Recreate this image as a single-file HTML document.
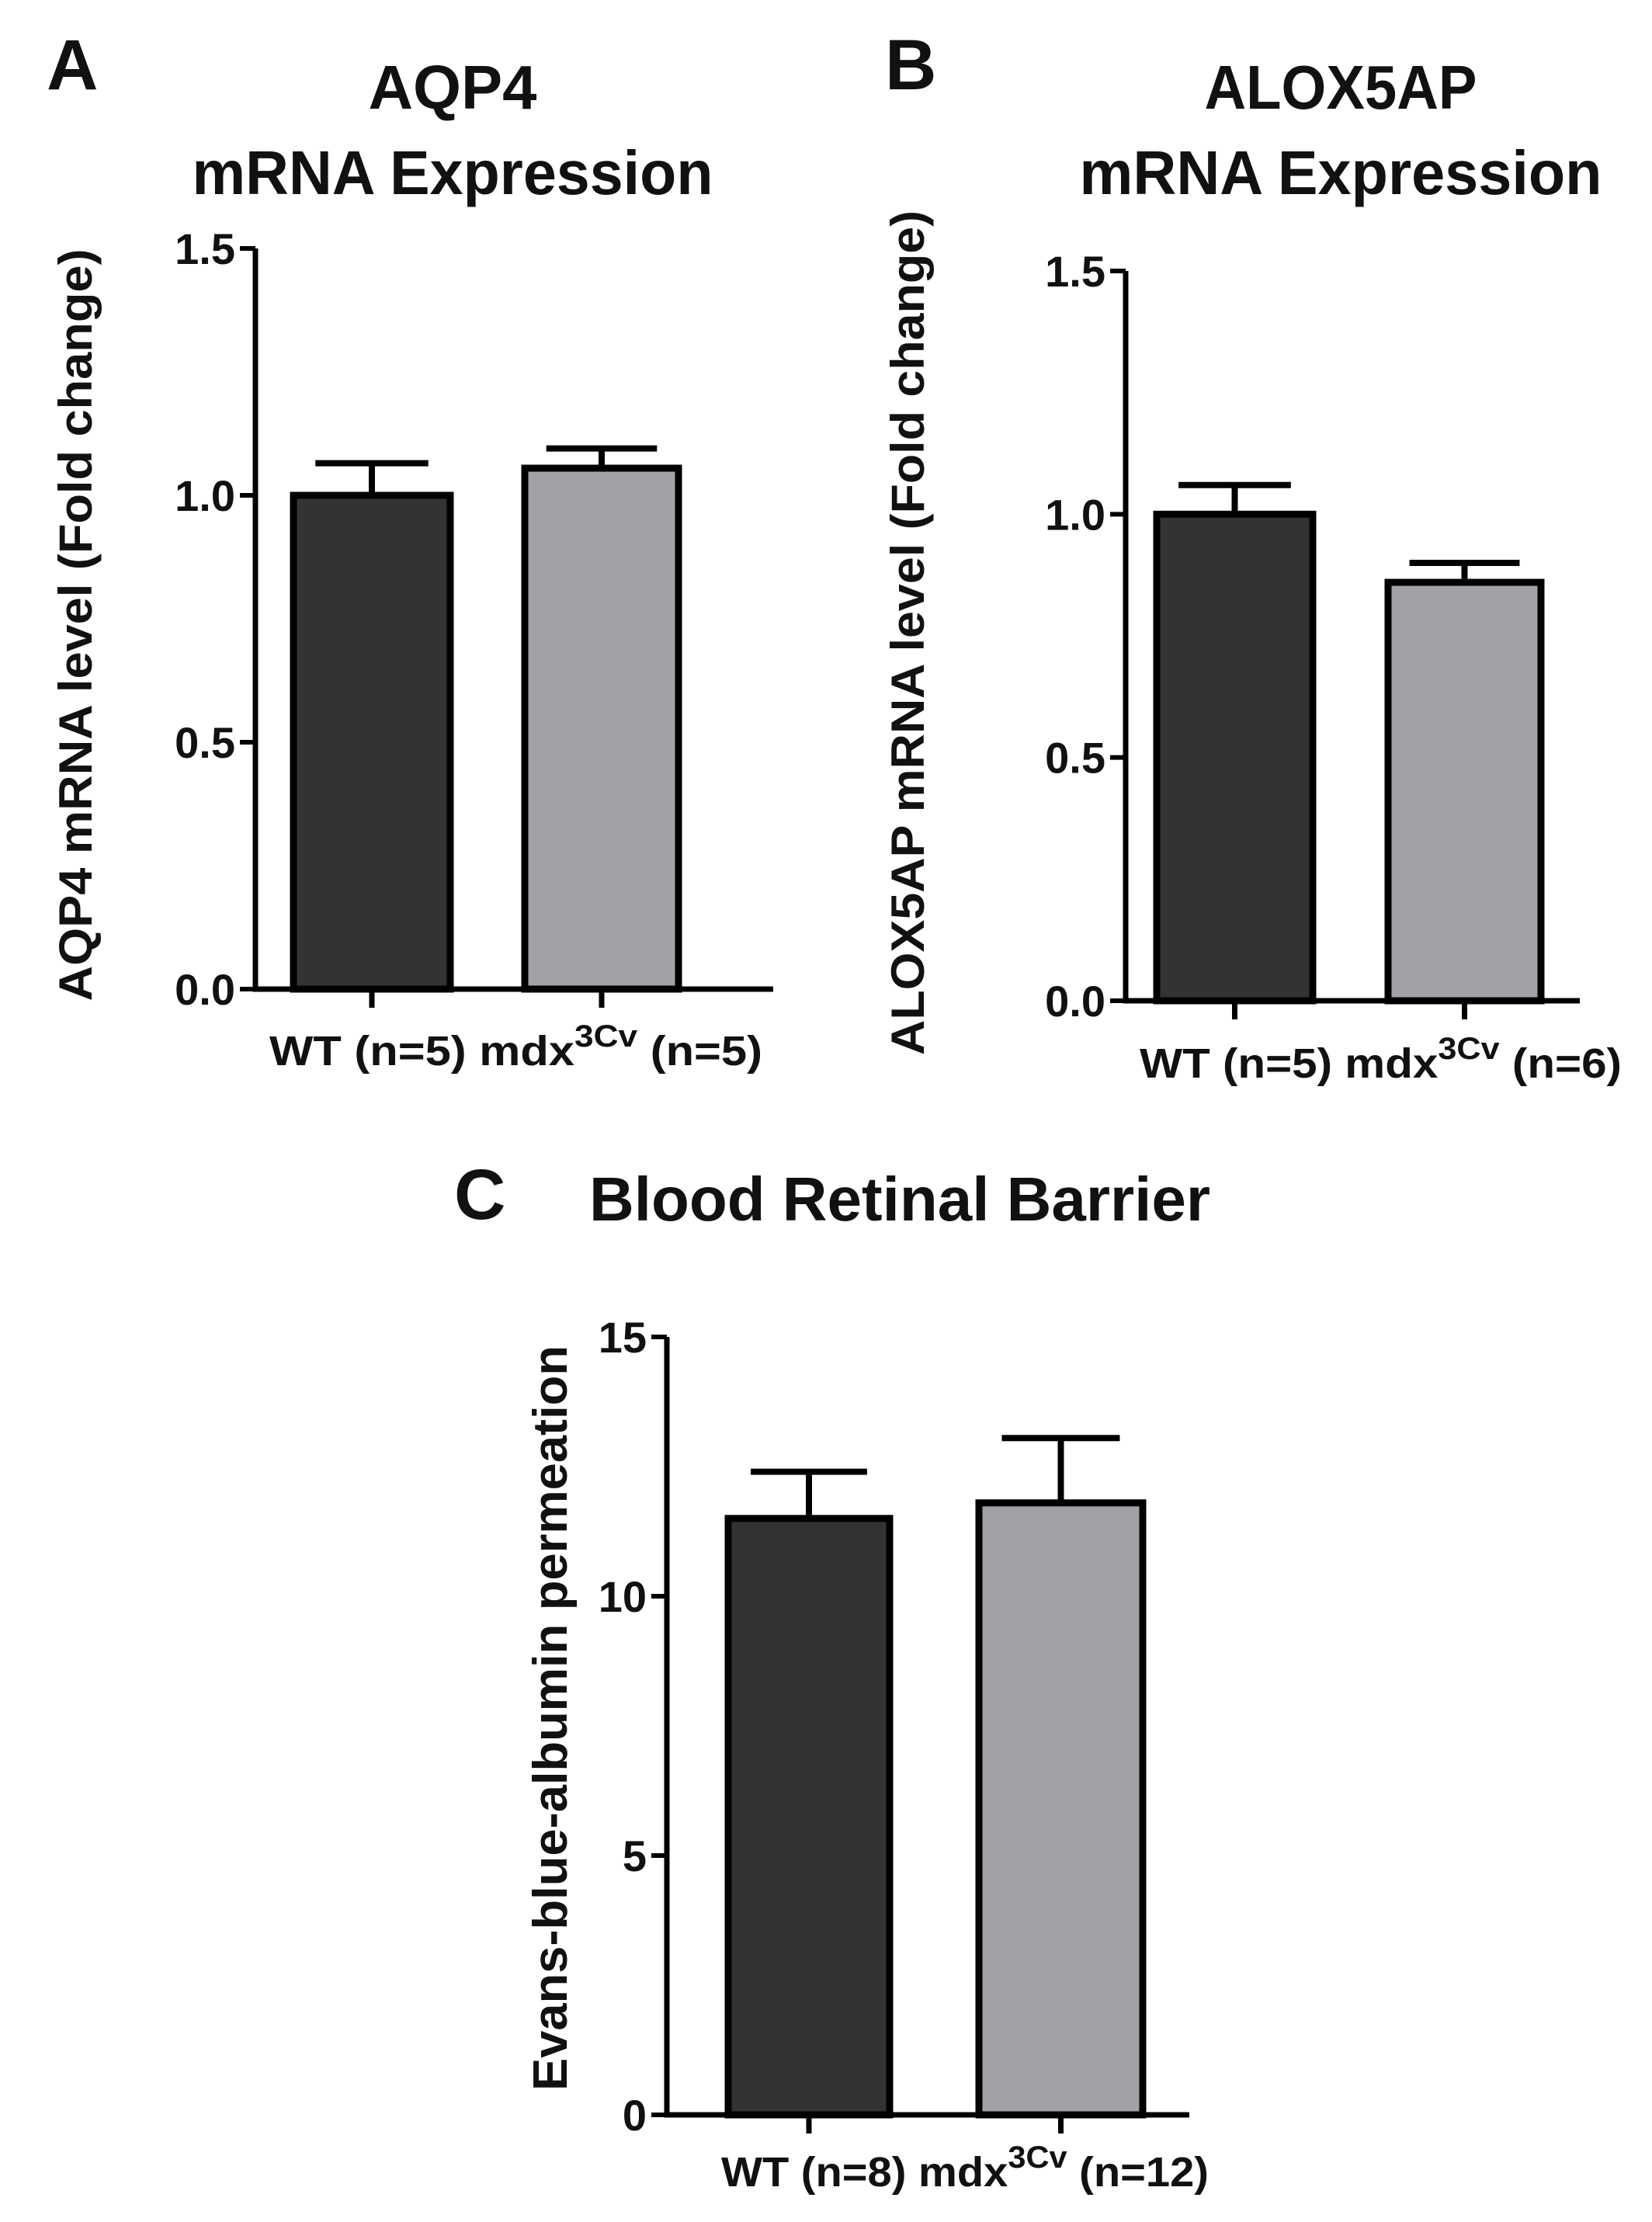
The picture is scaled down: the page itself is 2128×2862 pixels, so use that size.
<!DOCTYPE html>
<html><head><meta charset="utf-8"><style>
html,body{margin:0;padding:0;background:#fff;}
svg{display:block;}
.t{font-family:"Liberation Sans",Arial,sans-serif;font-weight:bold;fill:#111;}
.h{font-family:"Liberation Sans",Arial,sans-serif;font-weight:bold;fill:#111;}
</style></head><body>
<svg id="fig" width="2128" height="2862" viewBox="0 0 2128 2862" xmlns="http://www.w3.org/2000/svg">
<g id="gA"></g>
<g id="gB"></g>
<g id="gC"></g>
</svg>
<script>
// Panel A data
const aCats = ["WT (n=5)", "mdx3Cv (n=5)"];
const aVals = [1.0, 1.055];
const aErr = [0.065, 0.04];
const aTicks = ["0.0", "0.5", "1.0", "1.5"];
// Panel B data
const bCats = ["WT (n=5)", "mdx3Cv (n=6)"];
const bVals = [1.0, 0.86];
const bErr = [0.06, 0.04];
const bTicks = ["0.0", "0.5", "1.0", "1.5"];
// Panel C data
const cCats = ["WT (n=8)", "mdx3Cv (n=12)"];
const cVals = [11.5, 11.8];
const cErr = [0.9, 1.25];
const cTicks = ["0", "5", "10", "15"];

const NS = "http://www.w3.org/2000/svg";
function mk(parent, tag, attrs, text) {
  const e = document.createElementNS(NS, tag);
  for (const k in attrs) e.setAttribute(k, attrs[k]);
  if (text !== undefined) e.textContent = text;
  parent.appendChild(e);
  return e;
}

function panel(g, cfg, cats, vals, errs, ticks) {
  const ymax = parseFloat(ticks[ticks.length - 1]);
  const y = v => cfg.y0 + (cfg.yTop - cfg.y0) * (v / ymax);
  const L = mk(g, "text", {x: cfg.letterX, y: cfg.letterY, class: "h", "font-size": 92}, cfg.letter);
  
  
  cfg.title.forEach((line, i) => {
    const t = mk(g, "text", {x: cfg.titleX, y: cfg.titleY + i * 110, class: "h", "font-size": 80, "text-anchor": "middle",
      textLength: cfg.titleW[i], lengthAdjust: "spacingAndGlyphs"}, line);
    
    
  });
  const yt = mk(g, "text", {x: 0, y: 0, class: "t", "font-size": cfg.ytSize, "text-anchor": "middle",
    textLength: cfg.ytLen, lengthAdjust: "spacingAndGlyphs",
    transform: `translate(${cfg.ytX},${cfg.ytY}) rotate(-90)`}, cfg.ytitle);
  
  
  cats.forEach((c, i) => {
    const [x1, x2] = cfg.bars[i];
    const top = y(vals[i]);
    const et = y(vals[i] + errs[i]);
    const cx = (x1 + x2) / 2;
    const ew = (x2 - x1) * 0.36;
    const el = mk(g, "line", {x1: cx, x2: cx, y1: top, y2: et, stroke: "#000", "stroke-width": 8});
    
    
    const ec = mk(g, "line", {x1: cx - ew, x2: cx + ew, y1: et, y2: et, stroke: "#000", "stroke-width": 8});
    
    
    const r = mk(g, "rect", {x: x1, y: top, width: x2 - x1, height: cfg.y0 - top,
      fill: i === 0 ? "#333333" : "#a2a1a5", stroke: "#000", "stroke-width": 9});
    
    
    const tk = mk(g, "line", {x1: cx, x2: cx, y1: cfg.y0, y2: cfg.y0 + 24, stroke: "#000", "stroke-width": 7});
    
    
  });
  const ya = mk(g, "line", {x1: cfg.ax, x2: cfg.ax, y1: cfg.yTop, y2: cfg.y0 + 3.5, stroke: "#000", "stroke-width": 7});
  
  
  const xa = mk(g, "line", {x1: cfg.ax - 3.5, x2: cfg.axEnd, y1: cfg.y0, y2: cfg.y0, stroke: "#000", "stroke-width": 7});
  
  
  ticks.forEach(tv => {
    const v = parseFloat(tv);
    const l = mk(g, "line", {x1: cfg.ax - 20, x2: cfg.ax, y1: y(v), y2: y(v), stroke: "#000", "stroke-width": 6});
    
    
    const t = mk(g, "text", {x: cfg.ax - 26, y: y(v) + 20, class: "t", "font-size": 56, "text-anchor": "end"}, tv);
    
    
  });
  const xl = mk(g, "text", {x: cfg.xlX, y: cfg.xlY, class: "t", "font-size": 54});
  
  
  const w = cats[1].split("3Cv");
  mk(xl, "tspan", {}, cats[0] + " " + w[0]);
  mk(xl, "tspan", {dy: -24, "font-size": 40}, "3Cv");
  mk(xl, "tspan", {dy: 24}, w[1]);
  xl.setAttribute("textLength", cfg.xlW);
  xl.setAttribute("lengthAdjust", "spacingAndGlyphs");
}

panel(document.getElementById("gA"), {
  letter: "A", letterX: 60, letterY: 115, title: ["AQP4", "mRNA Expression"], titleW: [217, 671], titleX: 583, titleY: 140,
  ytitle: "AQP4 mRNA level (Fold change)", ytX: 118, ytY: 805, ytSize: 60, ytLen: 969,
  ax: 329, axEnd: 996, y0: 1274, yTop: 320, bars: [[378, 580], [676, 874]],
  xlX: 347, xlY: 1372, xlW: 635
}, aCats, aVals, aErr, aTicks);

panel(document.getElementById("gB"), {
  letter: "B", letterX: 1140, letterY: 115, title: ["ALOX5AP", "mRNA Expression"], titleW: [351, 673], titleX: 1727, titleY: 140,
  ytitle: "ALOX5AP mRNA level (Fold change)", ytX: 1190, ytY: 815, ytSize: 60, ytLen: 1088,
  ax: 1450, axEnd: 2035, y0: 1289, yTop: 349, bars: [[1490, 1691], [1788, 1985]],
  xlX: 1468, xlY: 1388, xlW: 621
}, bCats, bVals, bErr, bTicks);

panel(document.getElementById("gC"), {
  letter: "C", letterX: 585, letterY: 1570, title: ["Blood Retinal Barrier"], titleW: [800], titleX: 1159, titleY: 1572,
  ytitle: "Evans-blue-albumin permeation", ytX: 730, ytY: 2213, ytSize: 62, ytLen: 960,
  ax: 859, axEnd: 1532, y0: 2724, yTop: 1722, bars: [[938, 1146], [1261, 1472]],
  xlX: 929, xlY: 2816, xlW: 628
}, cCats, cVals, cErr, cTicks);
</script>
</body></html>
